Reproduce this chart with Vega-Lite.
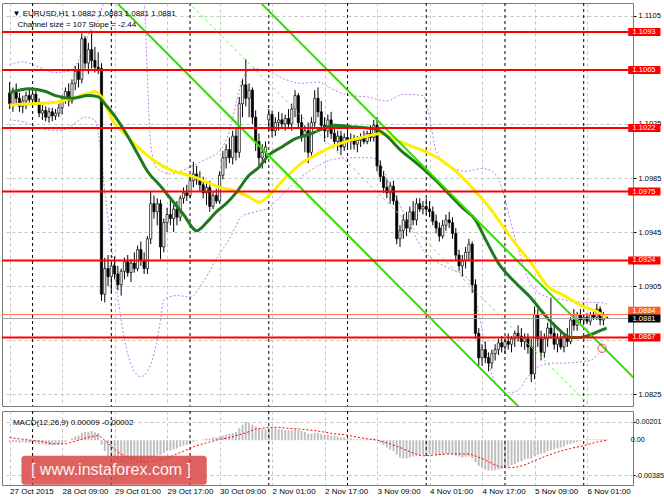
{
"$schema": "https://vega.github.io/schema/vega-lite/v6.json",
"padding": {"left": 0, "top": 2, "right": 0, "bottom": 0},
"background": "white",
"config": {
  "font": "Liberation Sans",
  "view": {"stroke": "#7a7a7a", "strokeWidth": 1},
  "concat": {"spacing": 3},
  "axis": {"labelFont": "Liberation Sans", "labelFontSize": 7.5, "labelColor": "#000000", "domainColor": "#7a7a7a", "tickColor": "#000000", "gridColor": "#c4c4c4", "gridDash": [3, 3], "gridWidth": 1, "labelOverlap": false, "labelFlush": false},
  "text": {"font": "Liberation Sans", "fontSize": 8, "color": "#000000"}
},
"datasets": {
  "bars": [
{"i":1,"o":1.1048,"h":1.1056,"l":1.1036,"c":1.1040,"m":-0.00015},
{"i":2,"o":1.1040,"h":1.1052,"l":1.1034,"c":1.1050,"m":-0.0002},
{"i":3,"o":1.1050,"h":1.1055,"l":1.1040,"c":1.1044,"m":-0.0002},
{"i":4,"o":1.1044,"h":1.1048,"l":1.1034,"c":1.1038,"m":-0.00025},
{"i":5,"o":1.1038,"h":1.1046,"l":1.1033,"c":1.1042,"m":-0.0002},
{"i":6,"o":1.1042,"h":1.1049,"l":1.1036,"c":1.1046,"m":-0.00025},
{"i":7,"o":1.1046,"h":1.1052,"l":1.1040,"c":1.1043,"m":-0.0003},
{"i":8,"o":1.1043,"h":1.1050,"l":1.1037,"c":1.1047,"m":-0.0003},
{"i":9,"o":1.1047,"h":1.1051,"l":1.1039,"c":1.1041,"m":-0.00035},
{"i":10,"o":1.1041,"h":1.1044,"l":1.1030,"c":1.1033,"m":-0.0004},
{"i":11,"o":1.1033,"h":1.1039,"l":1.1028,"c":1.1035,"m":-0.00045},
{"i":12,"o":1.1035,"h":1.1038,"l":1.1027,"c":1.1030,"m":-0.0005},
{"i":13,"o":1.1030,"h":1.1037,"l":1.1026,"c":1.1034,"m":-0.00052},
{"i":14,"o":1.1034,"h":1.1037,"l":1.1027,"c":1.1031,"m":-0.00055},
{"i":15,"o":1.1031,"h":1.1036,"l":1.1028,"c":1.1033,"m":-0.0005},
{"i":16,"o":1.1033,"h":1.1040,"l":1.1030,"c":1.1037,"m":-0.00045},
{"i":17,"o":1.1037,"h":1.1046,"l":1.1032,"c":1.1043,"m":-0.0004},
{"i":18,"o":1.1043,"h":1.1052,"l":1.1040,"c":1.1049,"m":-0.0002},
{"i":19,"o":1.1049,"h":1.1055,"l":1.1038,"c":1.1042,"m":0},
{"i":20,"o":1.1042,"h":1.1058,"l":1.1040,"c":1.1055,"m":0.0002},
{"i":21,"o":1.1055,"h":1.1068,"l":1.1050,"c":1.1064,"m":0.0004},
{"i":22,"o":1.1064,"h":1.1070,"l":1.1052,"c":1.1058,"m":0.0005},
{"i":23,"o":1.1058,"h":1.1092,"l":1.1055,"c":1.1088,"m":0.0008},
{"i":24,"o":1.1088,"h":1.1090,"l":1.1066,"c":1.1070,"m":0.0009},
{"i":25,"o":1.1070,"h":1.1085,"l":1.1062,"c":1.1080,"m":0.0009},
{"i":26,"o":1.1080,"h":1.1094,"l":1.1066,"c":1.1072,"m":0.0010},
{"i":27,"o":1.1072,"h":1.1082,"l":1.1063,"c":1.1067,"m":0.0009},
{"i":28,"o":1.1067,"h":1.1078,"l":1.1062,"c":1.1066,"m":0.0008},
{"i":29,"o":1.1066,"h":1.1070,"l":1.0894,"c":1.0899,"m":-0.0005},
{"i":30,"o":1.0899,"h":1.0926,"l":1.0893,"c":1.0918,"m":-0.0012},
{"i":31,"o":1.0918,"h":1.0928,"l":1.0905,"c":1.0912,"m":-0.0017},
{"i":32,"o":1.0912,"h":1.0922,"l":1.0900,"c":1.0920,"m":-0.0020},
{"i":33,"o":1.0920,"h":1.0927,"l":1.0910,"c":1.0914,"m":-0.0022},
{"i":34,"o":1.0914,"h":1.0920,"l":1.0902,"c":1.0906,"m":-0.0024},
{"i":35,"o":1.0906,"h":1.0918,"l":1.0898,"c":1.0916,"m":-0.0025},
{"i":36,"o":1.0916,"h":1.0926,"l":1.0910,"c":1.0923,"m":-0.0026},
{"i":37,"o":1.0923,"h":1.0928,"l":1.0912,"c":1.0915,"m":-0.0026},
{"i":38,"o":1.0915,"h":1.0925,"l":1.0908,"c":1.0922,"m":-0.0026},
{"i":39,"o":1.0922,"h":1.0930,"l":1.0915,"c":1.0918,"m":-0.0026},
{"i":40,"o":1.0918,"h":1.0935,"l":1.0916,"c":1.0932,"m":-0.0025},
{"i":41,"o":1.0932,"h":1.0938,"l":1.0920,"c":1.0924,"m":-0.0025},
{"i":42,"o":1.0924,"h":1.0930,"l":1.0914,"c":1.0918,"m":-0.0025},
{"i":43,"o":1.0918,"h":1.0942,"l":1.0914,"c":1.0940,"m":-0.0023},
{"i":44,"o":1.0940,"h":1.0975,"l":1.0936,"c":1.0966,"m":-0.0020},
{"i":45,"o":1.0966,"h":1.0972,"l":1.0955,"c":1.0960,"m":-0.0018},
{"i":46,"o":1.0960,"h":1.0970,"l":1.0950,"c":1.0966,"m":-0.0016},
{"i":47,"o":1.0966,"h":1.0969,"l":1.0925,"c":1.0934,"m":-0.0016},
{"i":48,"o":1.0934,"h":1.0955,"l":1.0930,"c":1.0952,"m":-0.0014},
{"i":49,"o":1.0952,"h":1.0963,"l":1.0945,"c":1.0958,"m":-0.0012},
{"i":50,"o":1.0958,"h":1.0970,"l":1.0950,"c":1.0955,"m":-0.0011},
{"i":51,"o":1.0955,"h":1.0965,"l":1.0945,"c":1.0962,"m":-0.0010},
{"i":52,"o":1.0962,"h":1.0968,"l":1.0950,"c":1.0956,"m":-0.0009},
{"i":53,"o":1.0956,"h":1.0972,"l":1.0953,"c":1.0970,"m":-0.0007},
{"i":54,"o":1.0970,"h":1.0978,"l":1.0966,"c":1.0974,"m":-0.0006},
{"i":55,"o":1.0974,"h":1.0980,"l":1.0968,"c":1.0972,"m":-0.0005},
{"i":56,"o":1.0972,"h":1.0986,"l":1.0970,"c":1.0983,"m":-0.0003},
{"i":57,"o":1.0983,"h":1.0997,"l":1.0978,"c":1.0988,"m":-0.0002},
{"i":58,"o":1.0988,"h":1.0994,"l":1.0980,"c":1.0984,"m":-0.0001},
{"i":59,"o":1.0984,"h":1.0990,"l":1.0975,"c":1.0980,"m":0},
{"i":60,"o":1.0980,"h":1.0986,"l":1.0970,"c":1.0974,"m":0.0001},
{"i":61,"o":1.0974,"h":1.0982,"l":1.0965,"c":1.0978,"m":0.0002},
{"i":62,"o":1.0978,"h":1.0983,"l":1.0960,"c":1.0964,"m":0.0002},
{"i":63,"o":1.0964,"h":1.0975,"l":1.0962,"c":1.0972,"m":0.0003},
{"i":64,"o":1.0972,"h":1.0977,"l":1.0966,"c":1.0968,"m":0.0003},
{"i":65,"o":1.0968,"h":1.0990,"l":1.0966,"c":1.0987,"m":0.0004},
{"i":66,"o":1.0987,"h":1.1005,"l":1.0984,"c":1.1000,"m":0.0005},
{"i":67,"o":1.1000,"h":1.1010,"l":1.0992,"c":1.1006,"m":0.0006},
{"i":68,"o":1.1006,"h":1.1015,"l":1.0996,"c":1.1000,"m":0.0007},
{"i":69,"o":1.1000,"h":1.1020,"l":1.0995,"c":1.1016,"m":0.0008},
{"i":70,"o":1.1016,"h":1.1022,"l":1.0998,"c":1.1004,"m":0.0009},
{"i":71,"o":1.1004,"h":1.1045,"l":1.1000,"c":1.1040,"m":0.0013},
{"i":72,"o":1.1040,"h":1.1058,"l":1.1030,"c":1.1054,"m":0.0017},
{"i":73,"o":1.1054,"h":1.1073,"l":1.1038,"c":1.1044,"m":0.0020},
{"i":74,"o":1.1044,"h":1.1055,"l":1.1030,"c":1.1050,"m":0.0019},
{"i":75,"o":1.1050,"h":1.1052,"l":1.1025,"c":1.1030,"m":0.0017},
{"i":76,"o":1.1030,"h":1.1035,"l":1.1005,"c":1.1012,"m":0.0015},
{"i":77,"o":1.1012,"h":1.1018,"l":1.0992,"c":1.1000,"m":0.0013},
{"i":78,"o":1.1000,"h":1.1010,"l":1.0992,"c":1.1004,"m":0.0012},
{"i":79,"o":1.1004,"h":1.1012,"l":1.0996,"c":1.1008,"m":0.0012},
{"i":80,"o":1.1028,"h":1.1036,"l":1.1020,"c":1.1032,"m":0.0013},
{"i":81,"o":1.1032,"h":1.1035,"l":1.1015,"c":1.1020,"m":0.0014},
{"i":82,"o":1.1020,"h":1.1030,"l":1.1016,"c":1.1026,"m":0.0013},
{"i":83,"o":1.1026,"h":1.1034,"l":1.1020,"c":1.1028,"m":0.0012},
{"i":84,"o":1.1028,"h":1.1033,"l":1.1022,"c":1.1025,"m":0.0012},
{"i":85,"o":1.1025,"h":1.1032,"l":1.1020,"c":1.1029,"m":0.0011},
{"i":86,"o":1.1029,"h":1.1036,"l":1.1022,"c":1.1025,"m":0.0011},
{"i":87,"o":1.1025,"h":1.1040,"l":1.1020,"c":1.1036,"m":0.0011},
{"i":88,"o":1.1036,"h":1.1050,"l":1.1030,"c":1.1046,"m":0.0012},
{"i":89,"o":1.1046,"h":1.1048,"l":1.1022,"c":1.1026,"m":0.0011},
{"i":90,"o":1.1026,"h":1.1032,"l":1.1012,"c":1.1016,"m":0.0010},
{"i":91,"o":1.1016,"h":1.1024,"l":1.1004,"c":1.1020,"m":0.0009},
{"i":92,"o":1.1020,"h":1.1026,"l":1.0996,"c":1.1004,"m":0.0007},
{"i":93,"o":1.1004,"h":1.1030,"l":1.1000,"c":1.1026,"m":0.0007},
{"i":94,"o":1.1026,"h":1.1050,"l":1.1022,"c":1.1044,"m":0.0008},
{"i":95,"o":1.1044,"h":1.1052,"l":1.1030,"c":1.1034,"m":0.0008},
{"i":96,"o":1.1034,"h":1.1042,"l":1.1020,"c":1.1024,"m":0.0007},
{"i":97,"o":1.1024,"h":1.1030,"l":1.1012,"c":1.1020,"m":0.0006},
{"i":98,"o":1.1020,"h":1.1032,"l":1.1015,"c":1.1028,"m":0.0006},
{"i":99,"o":1.1028,"h":1.1034,"l":1.1014,"c":1.1018,"m":0.0005},
{"i":100,"o":1.1018,"h":1.1025,"l":1.1008,"c":1.1012,"m":0.0005},
{"i":101,"o":1.1012,"h":1.1020,"l":1.1005,"c":1.1016,"m":0.0004},
{"i":102,"o":1.1016,"h":1.1020,"l":1.1002,"c":1.1008,"m":0.0003},
{"i":103,"o":1.1008,"h":1.1018,"l":1.1005,"c":1.1015,"m":0.0003},
{"i":104,"o":1.1015,"h":1.1020,"l":1.1008,"c":1.1012,"m":0.0002},
{"i":105,"o":1.1012,"h":1.1018,"l":1.1006,"c":1.1014,"m":0.0002},
{"i":106,"o":1.1014,"h":1.1017,"l":1.1006,"c":1.1010,"m":0.0001},
{"i":107,"o":1.1010,"h":1.1016,"l":1.1004,"c":1.1013,"m":0.0001},
{"i":108,"o":1.1013,"h":1.1018,"l":1.1008,"c":1.1015,"m":0.0001},
{"i":109,"o":1.1015,"h":1.1020,"l":1.1010,"c":1.1012,"m":0.0001},
{"i":110,"o":1.1012,"h":1.1020,"l":1.1010,"c":1.1018,"m":0.0001},
{"i":111,"o":1.1018,"h":1.1024,"l":1.1012,"c":1.1015,"m":0.0001},
{"i":112,"o":1.1015,"h":1.1028,"l":1.1012,"c":1.1024,"m":0.0002},
{"i":113,"o":1.1024,"h":1.1030,"l":1.0990,"c":1.0994,"m":0.0001},
{"i":114,"o":1.0994,"h":1.0998,"l":1.0982,"c":1.0986,"m":-0.0003},
{"i":115,"o":1.0986,"h":1.0990,"l":1.0974,"c":1.0978,"m":-0.0005},
{"i":116,"o":1.0978,"h":1.0984,"l":1.0970,"c":1.0974,"m":-0.0008},
{"i":117,"o":1.0974,"h":1.0982,"l":1.0966,"c":1.0979,"m":-0.0010},
{"i":118,"o":1.0979,"h":1.0983,"l":1.0965,"c":1.0968,"m":-0.0012},
{"i":119,"o":1.0968,"h":1.0972,"l":1.0936,"c":1.0940,"m":-0.0016},
{"i":120,"o":1.0940,"h":1.0950,"l":1.0934,"c":1.0946,"m":-0.0019},
{"i":121,"o":1.0946,"h":1.0958,"l":1.0940,"c":1.0954,"m":-0.0020},
{"i":122,"o":1.0954,"h":1.0960,"l":1.0942,"c":1.0948,"m":-0.0020},
{"i":123,"o":1.0948,"h":1.0964,"l":1.0945,"c":1.0960,"m":-0.0019},
{"i":124,"o":1.0960,"h":1.0968,"l":1.0950,"c":1.0954,"m":-0.0018},
{"i":125,"o":1.0954,"h":1.0970,"l":1.0950,"c":1.0966,"m":-0.0017},
{"i":126,"o":1.0966,"h":1.0970,"l":1.0960,"c":1.0962,"m":-0.0016},
{"i":127,"o":1.0962,"h":1.0968,"l":1.0958,"c":1.0964,"m":-0.0016},
{"i":128,"o":1.0964,"h":1.0970,"l":1.0958,"c":1.0962,"m":-0.0016},
{"i":129,"o":1.0962,"h":1.0968,"l":1.0956,"c":1.0960,"m":-0.0015},
{"i":130,"o":1.0960,"h":1.0964,"l":1.0950,"c":1.0953,"m":-0.0015},
{"i":131,"o":1.0953,"h":1.0958,"l":1.0944,"c":1.0948,"m":-0.0016},
{"i":132,"o":1.0948,"h":1.0952,"l":1.0938,"c":1.0942,"m":-0.0016},
{"i":133,"o":1.0942,"h":1.0954,"l":1.0940,"c":1.0950,"m":-0.0016},
{"i":134,"o":1.0950,"h":1.0958,"l":1.0946,"c":1.0954,"m":-0.0015},
{"i":135,"o":1.0954,"h":1.0960,"l":1.0948,"c":1.0952,"m":-0.0015},
{"i":136,"o":1.0952,"h":1.0956,"l":1.0940,"c":1.0944,"m":-0.0016},
{"i":137,"o":1.0944,"h":1.0948,"l":1.0924,"c":1.0928,"m":-0.0017},
{"i":138,"o":1.0928,"h":1.0932,"l":1.0916,"c":1.0920,"m":-0.0018},
{"i":139,"o":1.0920,"h":1.0928,"l":1.0912,"c":1.0924,"m":-0.0019},
{"i":140,"o":1.0924,"h":1.0934,"l":1.0918,"c":1.0930,"m":-0.0018},
{"i":141,"o":1.0930,"h":1.0940,"l":1.0924,"c":1.0936,"m":-0.0018},
{"i":142,"o":1.0936,"h":1.0938,"l":1.0900,"c":1.0906,"m":-0.0020},
{"i":143,"o":1.0906,"h":1.0910,"l":1.0866,"c":1.0870,"m":-0.0024},
{"i":144,"o":1.0870,"h":1.0874,"l":1.0846,"c":1.0852,"m":-0.0028},
{"i":145,"o":1.0852,"h":1.0862,"l":1.0846,"c":1.0858,"m":-0.0030},
{"i":146,"o":1.0858,"h":1.0864,"l":1.0848,"c":1.0852,"m":-0.0032},
{"i":147,"o":1.0852,"h":1.0856,"l":1.0842,"c":1.0848,"m":-0.0033},
{"i":148,"o":1.0848,"h":1.0858,"l":1.0844,"c":1.0855,"m":-0.0033},
{"i":149,"o":1.0855,"h":1.0862,"l":1.0850,"c":1.0858,"m":-0.0033},
{"i":150,"o":1.0858,"h":1.0866,"l":1.0854,"c":1.0863,"m":-0.0032},
{"i":151,"o":1.0863,"h":1.0868,"l":1.0856,"c":1.0860,"m":-0.0031},
{"i":152,"o":1.0860,"h":1.0866,"l":1.0855,"c":1.0864,"m":-0.0030},
{"i":153,"o":1.0864,"h":1.0870,"l":1.0858,"c":1.0862,"m":-0.0029},
{"i":154,"o":1.0862,"h":1.0868,"l":1.0856,"c":1.0866,"m":-0.0027},
{"i":155,"o":1.0866,"h":1.0872,"l":1.0860,"c":1.0870,"m":-0.0026},
{"i":156,"o":1.0870,"h":1.0876,"l":1.0864,"c":1.0868,"m":-0.0024},
{"i":157,"o":1.0868,"h":1.0874,"l":1.0860,"c":1.0864,"m":-0.0023},
{"i":158,"o":1.0864,"h":1.0870,"l":1.0858,"c":1.0866,"m":-0.0021},
{"i":159,"o":1.0866,"h":1.0870,"l":1.0855,"c":1.0860,"m":-0.0020},
{"i":160,"o":1.0860,"h":1.0866,"l":1.0834,"c":1.0840,"m":-0.0020},
{"i":161,"o":1.0840,"h":1.0890,"l":1.0836,"c":1.0884,"m":-0.0017},
{"i":162,"o":1.0884,"h":1.0888,"l":1.0860,"c":1.0866,"m":-0.0016},
{"i":163,"o":1.0866,"h":1.0872,"l":1.0850,"c":1.0856,"m":-0.0015},
{"i":164,"o":1.0856,"h":1.0870,"l":1.0852,"c":1.0866,"m":-0.0014},
{"i":165,"o":1.0866,"h":1.0878,"l":1.0860,"c":1.0874,"m":-0.0012},
{"i":166,"o":1.0874,"h":1.0896,"l":1.0866,"c":1.0870,"m":-0.0011},
{"i":167,"o":1.0870,"h":1.0878,"l":1.0858,"c":1.0862,"m":-0.0010},
{"i":168,"o":1.0862,"h":1.0870,"l":1.0856,"c":1.0866,"m":-0.0009},
{"i":169,"o":1.0866,"h":1.0872,"l":1.0858,"c":1.0860,"m":-0.0008},
{"i":170,"o":1.0860,"h":1.0870,"l":1.0856,"c":1.0868,"m":-0.0007},
{"i":171,"o":1.0868,"h":1.0874,"l":1.0860,"c":1.0864,"m":-0.0005},
{"i":172,"o":1.0864,"h":1.0882,"l":1.0862,"c":1.0880,"m":-0.0004},
{"i":173,"o":1.0880,"h":1.0888,"l":1.0872,"c":1.0876,"m":-0.0003},
{"i":174,"o":1.0876,"h":1.0886,"l":1.0872,"c":1.0884,"m":-0.0002},
{"i":175,"o":1.0884,"h":1.0888,"l":1.0876,"c":1.0880,"m":-0.0001},
{"i":176,"o":1.0880,"h":1.0884,"l":1.0876,"c":1.0882,"m":0},
{"i":177,"o":1.0882,"h":1.0885,"l":1.0877,"c":1.0879,"m":0.0001},
{"i":178,"o":1.0879,"h":1.0886,"l":1.0876,"c":1.0884,"m":0.0001},
{"i":179,"o":1.0884,"h":1.0888,"l":1.0880,"c":1.0882,"m":0.0001},
{"i":180,"o":1.0882,"h":1.0892,"l":1.0880,"c":1.0888,"m":0.0001},
{"i":181,"o":1.0888,"h":1.0890,"l":1.0876,"c":1.0880,"m":0.0001},
{"i":182,"o":1.0880,"h":1.0886,"l":1.0876,"c":1.0883,"m":0.0001},
{"i":183,"o":1.0882,"h":1.0883,"l":1.0881,"c":1.0881,"m":0.00009}
  ],
  "maY": [
{"i":1,"v":1.1039},{"i":8,"v":1.1040},{"i":15,"v":1.1041},{"i":20,"v":1.1044},{"i":24,"v":1.1047},{"i":27,"v":1.1049},{"i":29,"v":1.1045},{"i":31,"v":1.1035},{"i":33,"v":1.1025},{"i":36,"v":1.1018},{"i":40,"v":1.1008},{"i":45,"v":1.0998},{"i":50,"v":1.0991},{"i":57,"v":1.0986},{"i":64,"v":1.0979},{"i":70,"v":1.0975},{"i":74,"v":1.0971},{"i":77,"v":1.0967},{"i":80,"v":1.0972},{"i":85,"v":1.0985},{"i":90,"v":1.0996},{"i":95,"v":1.1003},{"i":100,"v":1.1009},{"i":105,"v":1.1013},{"i":110,"v":1.1016},{"i":114,"v":1.1018},{"i":118,"v":1.1014},{"i":123,"v":1.1009},{"i":130,"v":1.1002},{"i":135,"v":1.0994},{"i":140,"v":1.0983},{"i":143,"v":1.0975},{"i":147,"v":1.0964},{"i":150,"v":1.0954},{"i":155,"v":1.0937},{"i":160,"v":1.0922},{"i":165,"v":1.0905},{"i":170,"v":1.0898},{"i":175,"v":1.0891},{"i":180,"v":1.0886},{"i":183,"v":1.0882}
  ],
  "maG": [
{"i":1,"v":1.1048},{"i":7,"v":1.1051},{"i":12,"v":1.1049},{"i":15,"v":1.1046},{"i":20,"v":1.1044},{"i":25,"v":1.1046},{"i":28,"v":1.1045},{"i":30,"v":1.1040},{"i":33,"v":1.1031},{"i":36,"v":1.1020},{"i":40,"v":1.1003},{"i":43,"v":1.0990},{"i":47,"v":1.0979},{"i":50,"v":1.0970},{"i":54,"v":1.0958},{"i":58,"v":1.0946},{"i":61,"v":1.0952},{"i":64,"v":1.0960},{"i":67,"v":1.0966},{"i":70,"v":1.0974},{"i":74,"v":1.0987},{"i":77,"v":1.0993},{"i":80,"v":1.1002},{"i":84,"v":1.1008},{"i":88,"v":1.1014},{"i":92,"v":1.1017},{"i":96,"v":1.1021},{"i":100,"v":1.1024},{"i":105,"v":1.1023},{"i":110,"v":1.1022},{"i":113,"v":1.1021},{"i":116,"v":1.1016},{"i":120,"v":1.1006},{"i":124,"v":1.0998},{"i":127,"v":1.0992},{"i":131,"v":1.0983},{"i":135,"v":1.0973},{"i":139,"v":1.0963},{"i":143,"v":1.0954},{"i":146,"v":1.0940},{"i":150,"v":1.0922},{"i":155,"v":1.0908},{"i":160,"v":1.0896},{"i":164,"v":1.0884},{"i":168,"v":1.0874},{"i":172,"v":1.0867},{"i":175,"v":1.0867},{"i":178,"v":1.0869},{"i":181,"v":1.0872},{"i":183,"v":1.0874}
  ],
  "bbU": [
{"i":1,"v":1.1069},{"i":5,"v":1.1071},{"i":10,"v":1.1067},{"i":15,"v":1.1063},{"i":19,"v":1.1064},{"i":22,"v":1.1072},{"i":24,"v":1.1085},{"i":26,"v":1.1096},{"i":28,"v":1.1102},{"i":30,"v":1.1116},{"i":34,"v":1.1122},{"i":38,"v":1.1122},{"i":42,"v":1.1115},{"i":43,"v":1.1060},{"i":44,"v":1.1010},{"i":46,"v":1.0992},{"i":50,"v":1.0988},{"i":55,"v":1.0992},{"i":60,"v":1.0998},{"i":65,"v":1.1005},{"i":68,"v":1.1020},{"i":70,"v":1.1040},{"i":72,"v":1.1058},{"i":75,"v":1.1066},{"i":80,"v":1.1064},{"i":85,"v":1.1058},{"i":90,"v":1.1055},{"i":95,"v":1.1056},{"i":100,"v":1.1050},{"i":105,"v":1.1046},{"i":110,"v":1.1045},{"i":116,"v":1.1042},{"i":121,"v":1.1047},{"i":127,"v":1.1046},{"i":129,"v":1.1030},{"i":131,"v":1.1005},{"i":135,"v":1.0994},{"i":140,"v":1.0990},{"i":145,"v":1.0992},{"i":148,"v":1.0990},{"i":151,"v":1.0978},{"i":154,"v":1.0950},{"i":157,"v":1.0925},{"i":160,"v":1.0906},{"i":165,"v":1.0897},{"i":170,"v":1.0895},{"i":175,"v":1.0893},{"i":180,"v":1.0893},{"i":183,"v":1.0892}
  ],
  "bbL": [
{"i":1,"v":1.1028},{"i":6,"v":1.1026},{"i":10,"v":1.1022},{"i":16,"v":1.1020},{"i":20,"v":1.1024},{"i":24,"v":1.1030},{"i":27,"v":1.1028},{"i":28,"v":1.1018},{"i":29,"v":1.1000},{"i":30,"v":1.0975},{"i":31,"v":1.0955},{"i":33,"v":1.0915},{"i":35,"v":1.0880},{"i":37,"v":1.0855},{"i":39,"v":1.0842},{"i":41,"v":1.0838},{"i":43,"v":1.0842},{"i":45,"v":1.0855},{"i":47,"v":1.0880},{"i":48,"v":1.0895},{"i":52,"v":1.0898},{"i":56,"v":1.0897},{"i":60,"v":1.0908},{"i":64,"v":1.0925},{"i":68,"v":1.0940},{"i":72,"v":1.0957},{"i":76,"v":1.0960},{"i":80,"v":1.0963},{"i":85,"v":1.0975},{"i":90,"v":1.0986},{"i":95,"v":1.0994},{"i":100,"v":1.0999},{"i":105,"v":1.1000},{"i":110,"v":1.1000},{"i":113,"v":1.0999},{"i":116,"v":1.0985},{"i":120,"v":1.0965},{"i":124,"v":1.0945},{"i":127,"v":1.0932},{"i":130,"v":1.0925},{"i":135,"v":1.0918},{"i":140,"v":1.0912},{"i":142,"v":1.0905},{"i":144,"v":1.0885},{"i":146,"v":1.0860},{"i":148,"v":1.0840},{"i":150,"v":1.0830},{"i":153,"v":1.0826},{"i":156,"v":1.0828},{"i":159,"v":1.0838},{"i":162,"v":1.0845},{"i":166,"v":1.0848},{"i":170,"v":1.0848},{"i":175,"v":1.0849},{"i":178,"v":1.0850},{"i":181,"v":1.0856},{"i":183,"v":1.0860}
  ],
  "chan": [
{"i":0,"p":1.13038,"k":"upper"},{"i":200,"p":1.08158,"k":"upper"},
{"i":0,"p":1.11968,"k":"lower"},{"i":200,"p":1.07088,"k":"lower"}
  ],
  "chanMid": [{"i":0,"p":1.12503},{"i":200,"p":1.07623}],
  "days": [{"i":8},{"i":32},{"i":56},{"i":80},{"i":104},{"i":128},{"i":152},{"i":176}],
  "levels": [{"p":1.1093},{"p":1.1065},{"p":1.1022},{"p":1.0975},{"p":1.0924},{"p":1.0867}],
  "cur": [{"p":1.0884,"k":"ask"},{"p":1.0881,"k":"bid"}],
  "lbl": [
{"p":1.1093,"t":"1.1093","k":"lvl"},{"p":1.1065,"t":"1.1065","k":"lvl"},{"p":1.1022,"t":"1.1022","k":"lvl"},{"p":1.0975,"t":"1.0975","k":"lvl"},{"p":1.0924,"t":"1.0924","k":"lvl"},{"p":1.0867,"t":"1.0867","k":"lvl"},{"p":1.08868,"t":"1.0884","k":"ask"},{"p":1.0881,"t":"1.0881","k":"bid"}
  ],
  "mark": [{"i":181.6,"p":1.0859}],
  "titles": [
{"i":1.9,"p":1.11064,"t":"▼ EURUSD,H1  1.0882 1.0883 1.0881 1.0881"},
{"i":3.4,"p":1.10985,"t":"Channel size = 107 Slope = -2.44"}
  ],
  "sig": [
{"i":1,"s":0.0003},{"i":5,"s":0.0001},{"i":10,"s":-0.0001},{"i":15,"s":-0.0004},{"i":18,"s":-0.0004},{"i":20,"s":-0.0002},{"i":23,"s":0.0001},{"i":26,"s":0.0004},{"i":28,"s":0.0005},{"i":29,"s":0.0003},{"i":30,"s":0.0},{"i":31,"s":-0.0003},{"i":32,"s":-0.0007},{"i":33,"s":-0.001},{"i":34,"s":-0.0013},{"i":35,"s":-0.0015},{"i":36,"s":-0.0017},{"i":38,"s":-0.002},{"i":40,"s":-0.0023},{"i":42,"s":-0.0024},{"i":44,"s":-0.0023},{"i":46,"s":-0.0022},{"i":48,"s":-0.002},{"i":50,"s":-0.0018},{"i":52,"s":-0.0015},{"i":54,"s":-0.0012},{"i":56,"s":-0.0009},{"i":58,"s":-0.0006},{"i":60,"s":-0.0004},{"i":62,"s":-0.0002},{"i":65,"s":0.0001},{"i":68,"s":0.0003},{"i":70,"s":0.0005},{"i":73,"s":0.0008},{"i":76,"s":0.0012},{"i":78,"s":0.0013},{"i":80,"s":0.0014},{"i":83,"s":0.0014},{"i":86,"s":0.0013},{"i":90,"s":0.0012},{"i":95,"s":0.001},{"i":100,"s":0.0007},{"i":103,"s":0.0006},{"i":106,"s":0.0004},{"i":110,"s":0.00015},{"i":113,"s":0},{"i":116,"s":-0.0003},{"i":120,"s":-0.0008},{"i":124,"s":-0.0014},{"i":127,"s":-0.0017},{"i":131,"s":-0.0016},{"i":135,"s":-0.0015},{"i":140,"s":-0.0015},{"i":145,"s":-0.002},{"i":149,"s":-0.0027},{"i":152,"s":-0.003},{"i":156,"s":-0.0029},{"i":160,"s":-0.0024},{"i":164,"s":-0.0018},{"i":168,"s":-0.0013},{"i":172,"s":-0.0009},{"i":176,"s":-0.0006},{"i":180,"s":-0.0002},{"i":183,"s":0}
  ],
  "macdTitle": [{"i":2.0,"v":0.00189,"t":"MACD(12,26,9) 0.00009 -0.00002"}],
  "zeroLbl": [{"v":0,"t":"0.00"}],
  "wm": [{"i":31.9,"v":-0.00328,"t":"[  www.instaforex.com  ]"}]
},
"vconcat": [
{
  "width": 631, "height": 403,
  "layer": [
    {"data": {"name": "bbU"}, "mark": {"type": "line", "color": "#c07ef0", "strokeWidth": 1, "strokeDash": [2, 2], "clip": true, "interpolate": "monotone"},
     "encoding": {
       "x": {"field": "i", "type": "quantitative", "title": null, "scale": {"domain": [0.2, 189.5], "nice": false, "zero": false},
             "axis": {"values": [1,9,17,25,33,41,49,57,65,73,81,89,97,105,113,121,129,137,145,153,161,169,177,185], "labels": false, "ticks": false, "domain": false, "grid": true, "title": null}},
       "y": {"field": "v", "type": "quantitative", "title": null, "scale": {"domain": [1.082, 1.11108], "nice": false, "zero": false},
             "axis": {"orient": "right", "values": [1.0825,1.0845,1.0865,1.0885,1.0905,1.0925,1.0945,1.0965,1.0985,1.1005,1.1025,1.1045,1.1065,1.1085,1.1105],
                      "labelExpr": "indexof(['1.0865','1.0885','1.0925','1.1065'], format(datum.value, '.4f')) >= 0 ? '' : format(datum.value, '.4f')",
                      "tickSize": 3, "labelPadding": 2, "labelOverlap": false, "grid": true, "title": null}}
     }},
    {"data": {"name": "bbL"}, "mark": {"type": "line", "color": "#c07ef0", "strokeWidth": 1, "strokeDash": [2, 2], "clip": true, "interpolate": "monotone"},
     "encoding": {
       "x": {"field": "i", "type": "quantitative", "title": null},
       "y": {"field": "v", "type": "quantitative", "title": null}}},
    {"data": {"name": "days"}, "mark": {"type": "rule", "color": "#000000", "strokeWidth": 1, "strokeDash": [3, 3]},
     "encoding": {"x": {"field": "i", "type": "quantitative", "title": null}}},
    {"data": {"name": "bars"}, "mark": {"type": "rule", "color": "#000000", "strokeWidth": 1},
     "encoding": {
       "x": {"field": "i", "type": "quantitative", "title": null},
       "y": {"field": "l", "type": "quantitative", "title": null},
       "y2": {"field": "h"}}},
    {"data": {"name": "bars"}, "mark": {"type": "bar", "size": 2.2, "stroke": "#000000", "strokeWidth": 0.7},
     "encoding": {
       "x": {"field": "i", "type": "quantitative", "title": null},
       "y": {"field": "o", "type": "quantitative", "title": null},
       "y2": {"field": "c"},
       "fill": {"condition": {"test": "datum.c >= datum.o", "value": "#ffffff"}, "value": "#000000"}}},
    {"data": {"name": "maY"}, "mark": {"type": "line", "color": "#ffee00", "strokeWidth": 3, "interpolate": "monotone"},
     "encoding": {
       "x": {"field": "i", "type": "quantitative", "title": null},
       "y": {"field": "v", "type": "quantitative", "title": null}}},
    {"data": {"name": "maG"}, "mark": {"type": "line", "color": "#1f7a1f", "strokeWidth": 3, "interpolate": "monotone"},
     "encoding": {
       "x": {"field": "i", "type": "quantitative", "title": null},
       "y": {"field": "v", "type": "quantitative", "title": null}}},
    {"data": {"name": "chan"}, "mark": {"type": "line", "color": "#33dd00", "strokeWidth": 2, "clip": true},
     "encoding": {
       "x": {"field": "i", "type": "quantitative", "title": null},
       "y": {"field": "p", "type": "quantitative", "title": null},
       "detail": {"field": "k"}}},
    {"data": {"name": "chanMid"}, "mark": {"type": "line", "color": "#66ee55", "strokeWidth": 1, "strokeDash": [3, 3], "clip": true},
     "encoding": {
       "x": {"field": "i", "type": "quantitative", "title": null},
       "y": {"field": "p", "type": "quantitative", "title": null}}},
    {"data": {"name": "levels"}, "mark": {"type": "rule", "color": "#ff0000", "strokeWidth": 2},
     "encoding": {"y": {"field": "p", "type": "quantitative", "title": null}}},
    {"data": {"name": "cur"}, "mark": {"type": "rule", "strokeWidth": 1},
     "encoding": {
       "y": {"field": "p", "type": "quantitative", "title": null},
       "stroke": {"field": "k", "type": "nominal", "scale": {"domain": ["ask", "bid"], "range": ["#ff7050", "#a0a0a0"]}, "legend": null}}},
    {"data": {"name": "mark"}, "mark": {"type": "point", "shape": "circle", "size": 70, "filled": false, "stroke": "#ff0000", "strokeWidth": 1},
     "encoding": {
       "x": {"field": "i", "type": "quantitative", "title": null},
       "y": {"field": "p", "type": "quantitative", "title": null}}},
    {"data": {"name": "titles"}, "mark": {"type": "text", "align": "left", "baseline": "middle", "fontSize": 8},
     "encoding": {
       "x": {"field": "i", "type": "quantitative", "title": null},
       "y": {"field": "p", "type": "quantitative", "title": null},
       "text": {"field": "t"}}},
    {"data": {"name": "lbl"}, "mark": {"type": "bar", "size": 8},
     "encoding": {
       "x": {"datum": 189.55, "type": "quantitative", "title": null},
       "x2": {"datum": 199.4},
       "y": {"field": "p", "type": "quantitative", "title": null},
       "fill": {"field": "k", "type": "nominal", "scale": {"domain": ["lvl", "ask", "bid"], "range": ["#ff0000", "#ff5a1f", "#000000"]}, "legend": null}}},
    {"data": {"name": "lbl"}, "mark": {"type": "text", "align": "left", "baseline": "middle", "fontSize": 7.5, "color": "#ffffff"},
     "encoding": {
       "x": {"datum": 190.9, "type": "quantitative", "title": null},
       "y": {"field": "p", "type": "quantitative", "title": null},
       "text": {"field": "t"}}}
  ]
},
{
  "width": 631, "height": 74,
  "layer": [
    {"data": {"name": "bars"}, "mark": {"type": "bar", "size": 2, "color": "#c0c0c0"},
     "encoding": {
       "x": {"field": "i", "type": "quantitative", "title": null, "scale": {"domain": [0.2, 189.5], "nice": false, "zero": false},
             "axis": {"values": [1,9,17,25,33,41,49,57,65,73,81,89,97,105,113,121,129,137,145,153,161,169,177,185],
                      "labelExpr": "['27 Oct 2015','','28 Oct 09:00','','29 Oct 01:00','','29 Oct 17:00','','30 Oct 09:00','','2 Nov 01:00','','2 Nov 17:00','','3 Nov 09:00','','4 Nov 01:00','','4 Nov 17:00','','5 Nov 09:00','','6 Nov 01:00',''][(datum.value - 1) / 8]",
                      "labelAlign": "left", "labelBaseline": "top", "labelPadding": 2, "labelFontSize": 8, "labelOverlap": false, "ticks": false, "domain": true, "grid": true, "title": null}},
       "y": {"field": "m", "type": "quantitative", "title": null, "scale": {"domain": [-0.004348, 0.002646], "nice": false, "zero": false},
             "axis": {"orient": "right", "values": [-0.00385, 0, 0.00201],
                      "labelExpr": "datum.value > 0.001 ? '0.00201' : (datum.value < -0.001 ? '-0.00385' : '')",
                      "tickSize": 2, "labelPadding": 0, "labelFontSize": 7.2, "labelOverlap": false, "grid": true, "title": null}},
       "y2": {"datum": 0}}},
    {"data": {"name": "days"}, "mark": {"type": "rule", "color": "#000000", "strokeWidth": 1, "strokeDash": [3, 3]},
     "encoding": {"x": {"field": "i", "type": "quantitative", "title": null}}},
    {"data": {"name": "sig"}, "mark": {"type": "line", "color": "#ff0000", "strokeWidth": 1, "strokeDash": [2, 2], "interpolate": "monotone"},
     "encoding": {
       "x": {"field": "i", "type": "quantitative", "title": null},
       "y": {"field": "s", "type": "quantitative", "title": null}}},
    {"data": {"name": "macdTitle"}, "mark": {"type": "text", "align": "left", "baseline": "middle", "fontSize": 8},
     "encoding": {
       "x": {"field": "i", "type": "quantitative", "title": null},
       "y": {"field": "v", "type": "quantitative", "title": null},
       "text": {"field": "t"}}},
    {"data": {"name": "zeroLbl"}, "mark": {"type": "text", "align": "left", "baseline": "middle", "fontSize": 7.2},
     "encoding": {
       "x": {"datum": 190.35, "type": "quantitative", "title": null},
       "y": {"field": "v", "type": "quantitative", "title": null},
       "text": {"field": "t"}}},
    {"data": {"name": "wm"}, "mark": {"type": "bar", "size": 29, "color": "#d8403e", "opacity": 0.82, "cornerRadius": 3},
     "encoding": {
       "x": {"datum": 4.6, "type": "quantitative", "title": null},
       "x2": {"datum": 61.1},
       "y": {"field": "v", "type": "quantitative", "title": null}}},
    {"data": {"name": "wm"}, "mark": {"type": "text", "align": "center", "baseline": "middle", "fontSize": 16, "color": "#ffffff", "opacity": 0.92},
     "encoding": {
       "x": {"field": "i", "type": "quantitative", "title": null},
       "y": {"field": "v", "type": "quantitative", "title": null},
       "text": {"field": "t"}}}
  ]
}
]
}
